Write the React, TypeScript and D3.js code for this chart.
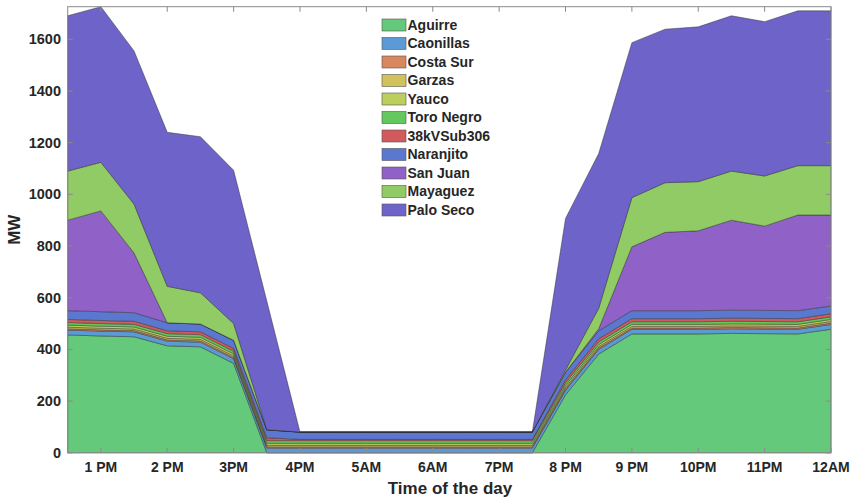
import React from "react";
import * as d3 from "d3";

const hours = [0.5, 1, 1.5, 2, 2.5, 3, 3.5, 4, 4.5, 5, 5.5, 6, 6.5, 7, 7.5, 8, 8.5, 9, 9.5, 10, 10.5, 11, 11.5, 12];
const tickHours = [1, 2, 3, 4, 5, 6, 7, 8, 9, 10, 11, 12];
const tickLabels = ["1 PM", "2 PM", "3PM", "4PM", "5AM", "6AM", "7PM", "8 PM", "9 PM", "10PM", "11PM", "12AM"];
const yTicks = [0, 200, 400, 600, 800, 1000, 1200, 1400, 1600];

const aguirre = [456, 452, 449, 414, 410, 346, 0, 0, 0, 0, 0, 0, 0, 0, 0, 224, 382, 460, 460, 460, 462, 461, 460, 478];
const caonillas = [19, 19, 19, 18, 18, 18, 18, 18, 18, 18, 18, 18, 18, 18, 18, 18, 18, 18, 18, 18, 18, 18, 18, 19];
const costaSur = [5, 5, 5, 5, 5, 5, 5, 5, 5, 5, 5, 5, 5, 5, 5, 5, 5, 5, 5, 5, 5, 5, 5, 5];
const garzas = [6, 6, 6, 6, 6, 6, 6, 6, 6, 6, 6, 6, 6, 6, 6, 6, 6, 6, 6, 6, 6, 6, 6, 6];
const yauco = [8, 8, 8, 8, 8, 8, 8, 8, 8, 8, 8, 8, 8, 8, 8, 8, 8, 8, 8, 8, 8, 8, 8, 8];
const toroNegro = [10, 10, 10, 10, 10, 10, 10, 10, 10, 10, 10, 10, 10, 10, 10, 10, 10, 10, 10, 10, 10, 10, 10, 10];
const sub306 = [12, 12, 12, 11, 11, 11, 11, 5, 5, 5, 5, 5, 5, 5, 5, 11, 12, 12, 12, 12, 12, 12, 12, 12];
const naranjito = [34, 34, 33, 31, 30, 31, 31, 28, 28, 28, 28, 28, 28, 28, 28, 30, 31, 31, 31, 31, 31, 31, 31, 30];
const sanJuan = [350, 390, 231, 0, 0, 0, 0, 0, 0, 0, 0, 0, 0, 0, 0, 0, 8, 247, 303, 309, 348, 326, 370, 352];
const mayaguez = [190, 188, 189, 141, 121, 65, 0, 0, 0, 0, 0, 0, 0, 0, 0, 8, 79, 190, 192, 190, 190, 194, 191, 191];
const paloSeco = [601, 602, 593, 596, 604, 593, 498, 0, 0, 0, 0, 0, 0, 0, 0, 587, 599, 600, 594, 599, 601, 597, 599, 599];

const seriesNames = ["Aguirre", "Caonillas", "Costa Sur", "Garzas", "Yauco", "Toro Negro", "38kVSub306", "Naranjito", "San Juan", "Mayaguez", "Palo Seco"];
const seriesValues = [aguirre, caonillas, costaSur, garzas, yauco, toroNegro, sub306, naranjito, sanJuan, mayaguez, paloSeco];
const seriesColors = ["#64C97A", "#5A9BD5", "#D9875F", "#D2C25C", "#BCCF5E", "#63C95F", "#D25A5E", "#5B78D0", "#9062C8", "#90CB65", "#6E63C9"];

export default function App() {
  const W = 854, H = 500;
  const left = 67.7, right = 831, top = 6.7, bottom = 452.8;

  const rows = hours.map((h, i) => {
    const r: any = { h };
    seriesNames.forEach((n, k) => (r[n] = seriesValues[k][i]));
    return r;
  });
  const stacked = d3.stack().keys(seriesNames)(rows);
  const ymax = d3.max(rows, (r: any) => d3.sum(seriesNames, (n) => r[n])) as number;

  const x = d3.scaleLinear().domain([0.5, 12]).range([left, right]);
  const y = d3.scaleLinear().domain([0, ymax]).range([bottom, top]);

  const area = d3
    .area<any>()
    .x((d: any) => x(d.data.h))
    .y0((d: any) => y(d[0]))
    .y1((d: any) => y(d[1]));

  const font = "'Liberation Sans', Arial, sans-serif";
  const axisColor = "#8a8a8a";
  const tickLen = 5;

  const legX = 382, legY = 19, legPitch = 18.5;

  return (
    <div style={{ position: "fixed", left: 0, top: 0 }}>
      <svg width={W} height={H} style={{ display: "block", background: "#fff" }}>
        <g>
          {stacked.map((s, k) => (
            <path
              key={seriesNames[k]}
              d={area(s as any) || ""}
              fill={seriesColors[k]}
              stroke="#2a2a2a"
              strokeWidth={0.6}
              strokeOpacity={0.75}
              strokeLinejoin="round"
            />
          ))}
        </g>
        <rect x={left} y={top} width={right - left} height={bottom - top} fill="none" stroke={axisColor} strokeWidth={1} />
        {tickHours.map((t, i) => (
          <g key={"xt" + i}>
            <line x1={x(t)} x2={x(t)} y1={bottom} y2={bottom - tickLen} stroke={axisColor} />
            <line x1={x(t)} x2={x(t)} y1={top} y2={top + tickLen} stroke={axisColor} />
            <text x={x(t)} y={472} textAnchor="middle" fontFamily={font} fontWeight="bold" fontSize={14} fill="#262626">
              {tickLabels[i]}
            </text>
          </g>
        ))}
        {yTicks.map((t) => (
          <g key={"yt" + t}>
            <line x1={left} x2={left + tickLen} y1={y(t)} y2={y(t)} stroke={axisColor} />
            <line x1={right} x2={right - tickLen} y1={y(t)} y2={y(t)} stroke={axisColor} />
            <text x={61} y={y(t)} dy="0.35em" textAnchor="end" fontFamily={font} fontWeight="bold" fontSize={14.5} fill="#262626">
              {t}
            </text>
          </g>
        ))}
        <text x={450} y={494} textAnchor="middle" fontFamily={font} fontWeight="bold" fontSize={17} fill="#262626">
          Time of the day
        </text>
        <text
          transform={`translate(20,${(top + bottom) / 2}) rotate(-90)`}
          textAnchor="middle"
          fontFamily={font}
          fontWeight="bold"
          fontSize={17}
          fill="#262626"
        >
          MW
        </text>
        <g>
          {seriesNames.map((n, k) => (
            <g key={"lg" + n}>
              <rect x={legX} y={legY + k * legPitch} width={24} height={12} fill={seriesColors[k]} stroke="#555" strokeWidth={0.6} />
              <text x={407.5} y={legY + k * legPitch + 6} dy="0.35em" fontFamily={font} fontWeight="bold" fontSize={14} fill="#262626">
                {n}
              </text>
            </g>
          ))}
        </g>
      </svg>
    </div>
  );
}
